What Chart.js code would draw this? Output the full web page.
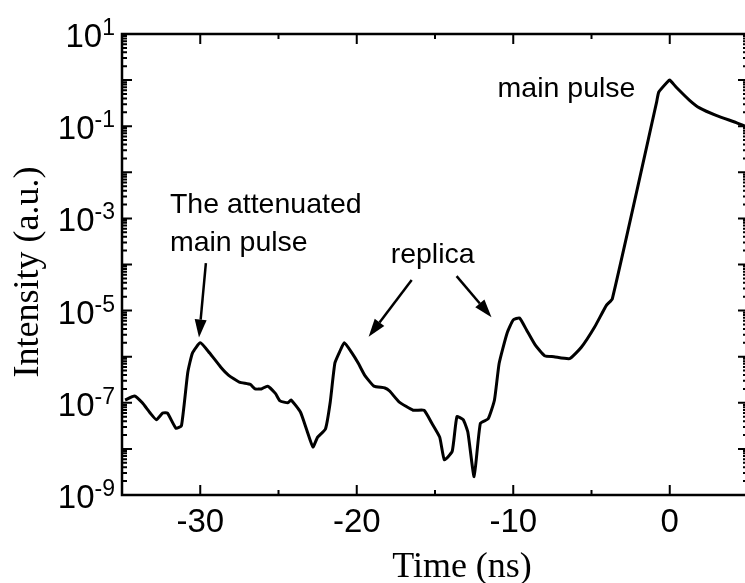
<!DOCTYPE html>
<html>
<head>
<meta charset="utf-8">
<script src="https://cdn.jsdelivr.net/npm/chart.js@4/dist/chart.umd.min.js"></script>
<style>
  html, body { margin: 0; padding: 0; background: #fff; overflow: hidden; }
  #wrap { width: 748px; height: 583px; }
</style>
</head>
<body>
<div id="wrap"><canvas id="pulseChart" width="748" height="583"></canvas></div>
<script>
// Tempo (ns) e intensidade
const times = [
  -34.8, -34.2, -33.7, -33.2, -32.8, -32.4, -32.1, -31.55, -31.2, -30.8,
  -30.5, -30.0, -29.4, -28.7, -28.2, -27.5, -26.8, -26.5, -26.1, -25.7,
  -25.2, -24.9, -24.4, -24.2, -23.6, -23.2, -22.8, -22.5, -22.0, -21.7,
  -21.4, -21.1, -20.8, -20.3, -19.9, -19.5, -18.9, -18.2, -17.9, -17.3,
  -16.4, -15.7, -15.2, -14.7, -14.4, -13.9, -13.6, -13.2, -12.9, -12.5,
  -12.1, -11.6, -11.2, -10.9, -10.4, -10.0, -9.6, -9.15, -8.6, -8.0,
  -7.4, -6.4, -5.65, -4.8, -4.05, -3.67, -0.85, -0.7, -0.15, 0.0,
  0.4, 1.25, 1.9, 3.0, 4.25, 5.0
];
const intensity = [
  1.15e-7, 1.41e-7, 1.0e-7, 6.0e-8, 4.3e-8, 6.0e-8, 6.0e-8, 2.8e-8, 3.2e-8, 4.5e-7,
  1.2e-6, 2.0e-6, 1.2e-6, 6.0e-7, 4.0e-7, 2.8e-7, 2.5e-7, 2.0e-7, 2.0e-7, 2.3e-7,
  1.6e-7, 1.1e-7, 1.0e-7, 1.15e-7, 6.3e-8, 2.6e-8, 1.1e-8, 1.8e-8, 2.7e-8, 1.0e-7,
  7.2e-7, 1.26e-6, 2.0e-6, 1.2e-6, 7.2e-7, 4.0e-7, 2.3e-7, 2.1e-7, 1.8e-7, 1.05e-7,
  6.9e-8, 6.9e-8, 3.6e-8, 1.8e-8, 5.8e-9, 8.9e-9, 5.0e-8, 4.3e-8, 2.3e-8, 2.5e-9,
  3.6e-8, 4.5e-8, 1.15e-7, 7.2e-7, 3.2e-6, 6.3e-6, 6.9e-6, 3.8e-6, 1.8e-6, 1.05e-6,
  1.0e-6, 9.1e-7, 1.6e-6, 4.4e-6, 1.3e-5, 1.8e-5, 0.32, 0.55, 0.91, 1.0,
  0.71, 0.37, 0.25, 0.17, 0.12, 0.095
];

// Rótulos dos eixos
const xTickValues = [-30, -20, -10, 0];
const yLabelExps = [-9, -7, -5, -3, -1, 1];

// Anotações (texto e setas) em coordenadas de dados
const notes = [
  { text: 'The attenuated', x: -31.94, y: 1.3e-3, align: 'left' },
  { text: 'main pulse', x: -31.94, y: 2.0e-4, align: 'left' },
  { text: 'replica', x: -15.15, y: 1.07e-4, align: 'center' },
  { text: 'main pulse', x: -11.0, y: 0.43, align: 'left' }
];
const arrows = [
  { from: [-29.64, 1.07e-4], to: [-30.08, 2.6e-6] },
  { from: [-16.49, 4.6e-5], to: [-19.24, 2.7e-6] },
  { from: [-13.62, 5.6e-5], to: [-11.39, 7.2e-6] }
];

const sansFont = '"Liberation Sans", Arial, sans-serif';
const serifFont = '"Liberation Serif", "Times New Roman", serif';

// Moldura, ticks espelhados, rótulos do eixo y e anotações
const framePlugin = {
  id: 'framePlugin',
  afterDraw(chart) {
    const { ctx, chartArea: a, scales: { x, y } } = chart;
    ctx.save();
    ctx.strokeStyle = '#000';
    ctx.fillStyle = '#000';

    ctx.lineWidth = 2.5;
    ctx.strokeRect(a.left, a.top, a.right - a.left, a.bottom - a.top);

    ctx.lineWidth = 2;
    ctx.beginPath();
    for (let v = x.min; v <= x.max; v += 5) {
      const len = v % 10 === 0 ? 10 : 5;
      const px = x.getPixelForValue(v);
      ctx.moveTo(px, a.bottom); ctx.lineTo(px, a.bottom - len);
      ctx.moveTo(px, a.top); ctx.lineTo(px, a.top + len);
    }
    for (let e = -9; e <= 1; e++) {
      for (let k = 1; k <= 9; k++) {
        const v = k * Math.pow(10, e);
        if (v > y.max * 1.0001) break;
        const len = k === 1 ? 10 : 5;
        const py = y.getPixelForValue(v);
        ctx.moveTo(a.left, py); ctx.lineTo(a.left + len, py);
        ctx.moveTo(a.right, py); ctx.lineTo(a.right - len, py);
      }
    }
    ctx.stroke();

    // rótulos 10^n
    yLabelExps.forEach(exp => {
      const py = y.getPixelForValue(Math.pow(10, exp));
      const right = 115;
      ctx.font = '23px ' + sansFont;
      ctx.textBaseline = 'alphabetic';
      ctx.textAlign = 'right';
      const expText = String(exp);
      ctx.fillText(expText, right, py + 1);
      const ew = ctx.measureText(expText).width;
      ctx.font = '33px ' + sansFont;
      ctx.fillText('10', right - ew, py + 13);
    });

    // títulos dos eixos
    ctx.font = '36px ' + serifFont;
    ctx.textAlign = 'center';
    ctx.textBaseline = 'alphabetic';
    ctx.fillText('Time (ns)', 462, 577);
    ctx.save();
    ctx.translate(38, 272);
    ctx.rotate(-Math.PI / 2);
    ctx.fillText('Intensity (a.u.)', 0, 0);
    ctx.restore();

    // anotações
    ctx.font = '28.5px ' + sansFont;
    notes.forEach(n => {
      ctx.textAlign = n.align;
      ctx.fillText(n.text, x.getPixelForValue(n.x), y.getPixelForValue(n.y));
    });

    ctx.lineWidth = 2.5;
    arrows.forEach(ar => {
      const x0 = x.getPixelForValue(ar.from[0]), y0 = y.getPixelForValue(ar.from[1]);
      const x1 = x.getPixelForValue(ar.to[0]), y1 = y.getPixelForValue(ar.to[1]);
      const ang = Math.atan2(y1 - y0, x1 - x0);
      const head = 18, half = 6;
      const bx = x1 - head * Math.cos(ang), by = y1 - head * Math.sin(ang);
      ctx.beginPath();
      ctx.moveTo(x0, y0); ctx.lineTo(bx, by);
      ctx.stroke();
      ctx.beginPath();
      ctx.moveTo(x1, y1);
      ctx.lineTo(bx + half * Math.sin(ang), by - half * Math.cos(ang));
      ctx.lineTo(bx - half * Math.sin(ang), by + half * Math.cos(ang));
      ctx.closePath();
      ctx.fill();
    });

    ctx.restore();
  }
};

const ctx = document.getElementById('pulseChart').getContext('2d');
const pulseChart = new Chart(ctx, {
  type: 'line',
  data: {
    datasets: [{
      data: times.map((t, i) => ({ x: t, y: intensity[i] })),
      borderColor: '#000',
      borderWidth: 3,
      pointRadius: 0,
      tension: 0.15,
      borderJoinStyle: 'round',
      fill: false
    }]
  },
  options: {
    responsive: false,
    animation: false,
    devicePixelRatio: 1,
    layout: { padding: { top: 34, right: 0, left: 0, bottom: 0 } },
    plugins: { legend: { display: false }, tooltip: { enabled: false } },
    scales: {
      x: {
        type: 'linear',
        min: -35,
        max: 5,
        grid: { display: false, drawTicks: false },
        border: { display: false },
        afterBuildTicks: scale => { scale.ticks = xTickValues.map(v => ({ value: v })); },
        afterFit: scale => { scale.height = 88; },
        ticks: {
          padding: 8,
          color: '#000',
          font: { family: sansFont, size: 33 },
          maxRotation: 0,
          callback: v => String(v)
        }
      },
      y: {
        type: 'logarithmic',
        min: 1e-9,
        max: 10,
        grid: { display: false, drawTicks: false },
        border: { display: false },
        afterFit: scale => { scale.width = 122; },
        ticks: { display: false }
      }
    }
  },
  plugins: [framePlugin]
});
</script>
</body>
</html>
